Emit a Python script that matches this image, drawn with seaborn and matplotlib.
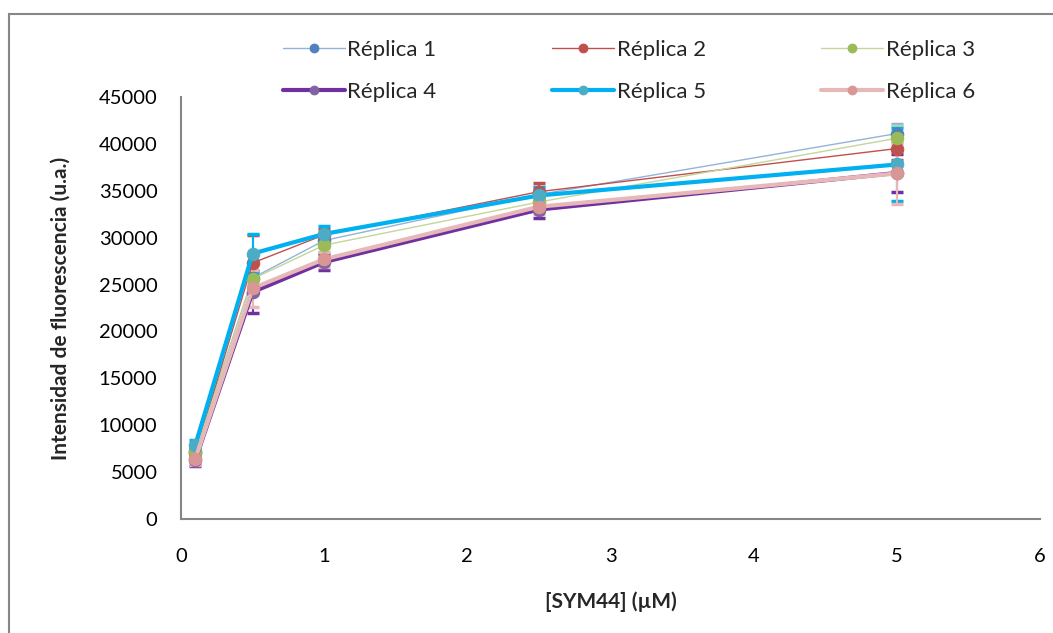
import numpy as np
import pandas as pd
import seaborn as sns
import matplotlib.pyplot as plt
from matplotlib.patches import Rectangle

conc = [0.1, 0.5, 1, 2.5, 5]
replicas = ["Réplica 1", "Réplica 2", "Réplica 3", "Réplica 4", "Réplica 5", "Réplica 6"]

rep1 = [7300, 25700, 29700, 34600, 41100]
rep2 = [7000, 27300, 30300, 34900, 39500]
rep3 = [7100, 25600, 29200, 33800, 40600]
rep4 = [6300, 24200, 27400, 33000, 36900]
rep5 = [7900, 28300, 30400, 34500, 37800]
rep6 = [6400, 24600, 27700, 33300, 36850]

err1 = [600, 700, 700, 800, 1000]
err2 = [700, 3000, 600, 900, 1200]
err3 = [600, 900, 700, 800, 1300]
err4 = [700, 2200, 900, 900, 2000]
err5 = [500, 2100, 800, 900, 3900]
err6 = [600, 2000, 800, 800, 3250]

values = [rep1, rep2, rep3, rep4, rep5, rep6]
errors = [err1, err2, err3, err4, err5, err6]

line_colors = ['#95B3D7', '#C0504D', '#C3D69B', '#7030A0', '#00B0F0', '#E6B9B8']
marker_colors = ['#4F81BD', '#C0504D', '#9BBB59', '#8064A2', '#4BACC6', '#D99694']
widths = [1.0, 1.0, 1.0, 3.0, 3.0, 3.0]

sns.set_theme(style='white')
plt.rcParams['font.family'] = ['Lato', 'DejaVu Sans']

fig = plt.figure(figsize=(10.53, 6.33), dpi=100)
ax = fig.add_axes([0.1719, 0.1801, 0.8158, 0.6667])

for name, vals, errs, lc, mc, lw in zip(replicas, values, errors, line_colors, marker_colors, widths):
    df = pd.DataFrame({'conc': conc, 'val': vals})
    ax.errorbar(conc, vals, yerr=errs, fmt='none', ecolor=lc, elinewidth=1.5,
                capsize=4.5, capthick=2.5, zorder=2)
    sns.lineplot(data=df, x='conc', y='val', ax=ax, color=lc, linewidth=lw,
                 marker='o', markersize=9, markerfacecolor=mc, markeredgecolor=mc,
                 label=name, zorder=3)

ax.set_xlim(0, 6)
ax.set_ylim(0, 45000)
ax.set_xticks(range(0, 7))
ax.set_yticks(range(0, 45001, 5000))
ax.tick_params(axis='y', labelsize=14.5, length=0, pad=17, colors='black')
ax.tick_params(axis='x', labelsize=14.5, length=0, pad=21, colors='black')
for s in ['top', 'right']:
    ax.spines[s].set_visible(False)
for s in ['left', 'bottom']:
    ax.spines[s].set_color('#868686')
    ax.spines[s].set_linewidth(1.5)

ax.set_xlabel('[SYM44] (µM)', fontsize=15, fontweight='bold', labelpad=19)
ax.set_ylabel('Intensidad de fluorescencia (u.a.)', fontsize=15, fontweight='bold', labelpad=20)

# legend in row-major order: columns are filled top to bottom
handles, labels = ax.get_legend_handles_labels()
order = [0, 3, 1, 4, 2, 5]
ax.legend([handles[i] for i in order], [labels[i] for i in order],
          loc='upper left', bbox_to_anchor=(283 / 1053, 1 - 40 / 633),
          bbox_transform=fig.transFigure, ncol=3, frameon=False, fontsize=16,
          handlelength=2.8, handletextpad=0.1, borderpad=0, borderaxespad=0,
          labelspacing=1.0, columnspacing=5.2, markerscale=0.7)

fig.patches.append(Rectangle((9 / 1053, -0.1), 1.2, 1.1 - 14 / 633 + 0.0, transform=fig.transFigure,
                             fill=False, edgecolor='#868686', linewidth=1.5))

fig.savefig('out.png', dpi=100)
